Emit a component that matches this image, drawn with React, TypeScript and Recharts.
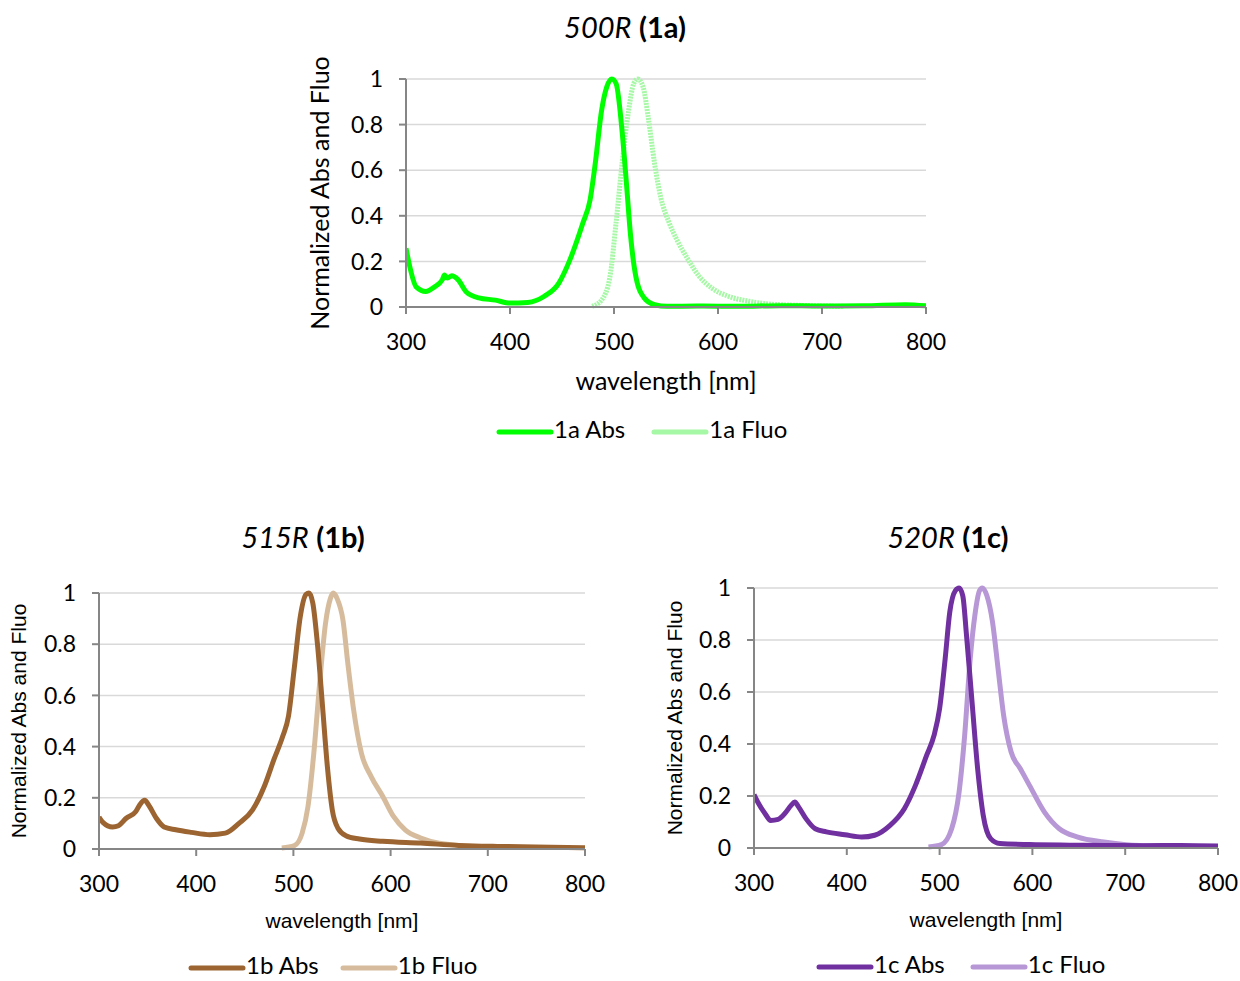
import React from 'react';
import { LineChart, Line, XAxis, YAxis, CartesianGrid } from 'recharts';

// wavelength [nm] / normalized value pairs
const abs1aX = [300, 303, 310, 319, 327, 335, 337, 340, 344, 350, 358, 370, 386, 400, 417, 433, 447, 457, 470, 477, 482, 488, 493, 498, 502, 508, 512, 516, 521, 529, 539, 551, 580, 620, 660, 700, 740, 780, 800];
const abs1aY = [0.258, 0.19, 0.087, 0.068, 0.087, 0.12, 0.14, 0.127, 0.137, 0.12, 0.066, 0.04, 0.03, 0.017, 0.02, 0.047, 0.105, 0.2, 0.367, 0.47, 0.63, 0.86, 0.965, 1.0, 0.98, 0.76, 0.54, 0.31, 0.134, 0.04, 0.01, 0.003, 0.004, 0.003, 0.006, 0.004, 0.005, 0.01, 0.005];
const fluo1aX = [479, 488, 496, 502, 508, 514, 519, 523, 528, 533, 539, 545, 553, 561, 571, 582, 594, 610, 630, 649, 689, 720];
const fluo1aY = [0.003, 0.03, 0.13, 0.37, 0.64, 0.86, 0.98, 1.0, 0.965, 0.83, 0.63, 0.48, 0.37, 0.29, 0.21, 0.134, 0.083, 0.047, 0.025, 0.013, 0.006, 0.003];

const abs1bX = [300, 304, 314, 320, 328, 338, 342, 347, 352, 359, 367, 379, 395, 414, 430, 444, 458, 470, 480, 489, 495, 501, 507, 513, 516, 520, 525, 530, 535, 540, 546, 554, 568, 592, 631, 670, 710, 749, 800];
const abs1bY = [0.125, 0.104, 0.086, 0.091, 0.12, 0.147, 0.173, 0.19, 0.166, 0.12, 0.086, 0.075, 0.065, 0.056, 0.062, 0.1, 0.153, 0.244, 0.35, 0.44, 0.52, 0.71, 0.906, 0.995, 1.0, 0.96, 0.79, 0.556, 0.32, 0.153, 0.08, 0.052, 0.039, 0.03, 0.023, 0.014, 0.01, 0.008, 0.005];
const fluo1bX = [488, 501, 509, 515, 521, 527, 533, 538, 541, 545, 551, 556, 562, 570, 580, 592, 603, 615, 631, 650, 690, 720];
const fluo1bY = [0.004, 0.013, 0.062, 0.166, 0.374, 0.647, 0.88, 0.978, 1.0, 0.978, 0.894, 0.725, 0.543, 0.374, 0.283, 0.205, 0.127, 0.075, 0.043, 0.023, 0.01, 0.008];

const abs1cX = [300, 304, 312, 318, 326, 334, 340, 344, 348, 356, 366, 378, 398, 416, 430, 446, 462, 474, 486, 494, 500, 506, 511, 517, 521, 525, 529, 535, 541, 547, 555, 565, 597, 640, 677, 720, 760, 800];
const abs1cY = [0.205, 0.177, 0.132, 0.106, 0.11, 0.136, 0.164, 0.177, 0.158, 0.113, 0.074, 0.062, 0.051, 0.042, 0.049, 0.085, 0.151, 0.241, 0.356, 0.433, 0.536, 0.728, 0.908, 0.99, 1.0, 0.97, 0.818, 0.56, 0.305, 0.126, 0.036, 0.017, 0.013, 0.011, 0.01, 0.009, 0.01, 0.008];
const fluo1cX = [488, 502, 513, 521, 527, 533, 538, 543, 546, 551, 557, 563, 569, 577, 587, 597, 613, 629, 649, 677, 701, 737];
const fluo1cY = [0.004, 0.013, 0.074, 0.215, 0.433, 0.728, 0.895, 0.99, 1.0, 0.97, 0.87, 0.69, 0.51, 0.37, 0.305, 0.24, 0.138, 0.074, 0.042, 0.023, 0.013, 0.008];

const xTicks = [300, 400, 500, 600, 700, 800];
const yTicks = [0, 0.2, 0.4, 0.6, 0.8, 1];

const toPoints = (xs: number[], ys: number[]) => xs.map((x, i) => ({ x, y: ys[i] }));

const CAL = 'Lato, "Open Sans", sans-serif';
const ARIAL = '"Liberation Sans", Arial, sans-serif';

interface PanelProps {
  left: number;
  top: number;
  width: number;
  height: number;
  marginTop: number;
  marginRight: number;
  yAxisWidth: number;
  xAxisHeight: number;
  yLabelOffset: number;
  xLabelOffset: number;
  absData: { x: number; y: number }[];
  fluoData: { x: number; y: number }[];
  absColor: string;
  fluoColor: string;
  fluoDash?: string;
  labelFont: string;
  labelSize: number;
}

const Panel: React.FC<PanelProps> = (p) => (
  <div style={{ position: 'absolute', left: p.left, top: p.top }}>
    <LineChart
      width={p.width}
      height={p.height}
      margin={{ top: p.marginTop, right: p.marginRight, left: 0, bottom: 0 }}
    >
      <CartesianGrid vertical={false} stroke="#d9d9d9" strokeWidth={1.5} />
      <XAxis
        type="number"
        dataKey="x"
        domain={[300, 800]}
        ticks={xTicks}
        allowDataOverflow
        height={p.xAxisHeight}
        stroke="#868686"
        strokeWidth={2}
        tickSize={7}
        tickMargin={20}
        tick={{ fill: '#000', fontSize: 23, fontFamily: CAL }}
        label={{
          value: 'wavelength [nm]',
          position: 'insideBottom',
          offset: p.xLabelOffset,
          fill: '#000',
          fontSize: p.labelSize,
          fontFamily: p.labelFont,
        }}
      />
      <YAxis
        type="number"
        domain={[0, 1]}
        ticks={yTicks}
        width={p.yAxisWidth}
        stroke="#868686"
        strokeWidth={2}
        tickSize={7}
        tickMargin={16}
        tick={{ fill: '#000', fontSize: 23, fontFamily: CAL }}
        label={{
          value: 'Normalized Abs and Fluo',
          angle: -90,
          position: 'insideLeft',
          offset: p.yLabelOffset,
          style: { textAnchor: 'middle' },
          fill: '#000',
          fontSize: p.labelSize,
          fontFamily: p.labelFont,
        }}
      />
      <Line
        data={p.fluoData}
        dataKey="y"
        type="monotone"
        stroke={p.fluoColor}
        strokeWidth={5}
        strokeDasharray={p.fluoDash}
        dot={false}
        isAnimationActive={false}
      />
      <Line
        data={p.absData}
        dataKey="y"
        type="monotone"
        stroke={p.absColor}
        strokeWidth={5}
        dot={false}
        isAnimationActive={false}
      />
    </LineChart>
  </div>
);

const Title: React.FC<{ x: number; y: number; name: string; tag: string }> = ({ x, y, name, tag }) => (
  <div
    style={{
      position: 'absolute',
      left: x - 150,
      top: y,
      width: 300,
      textAlign: 'center',
      fontFamily: CAL,
      fontSize: 29,
      lineHeight: '32px',
      color: '#000',
    }}
  >
    <span style={{ fontStyle: 'italic' }}>{name}</span> <span style={{ fontWeight: 700 }}>{tag}</span>
  </div>
);

const Swatch: React.FC<{ color: string; dash?: boolean }> = ({ color, dash }) => (
  <svg width={58} height={10} style={{ verticalAlign: 'middle' }}>
    <line
      x1={3}
      y1={5}
      x2={55}
      y2={5}
      stroke={color}
      strokeWidth={5}
      strokeLinecap="round"
      strokeDasharray={dash ? '2 1' : undefined}
    />
  </svg>
);

const LegendRow: React.FC<{ x: number; y: number; abs: string; fluo: string; absColor: string; fluoColor: string; dash?: boolean; gap: number }> = (p) => (
  <div
    style={{
      position: 'absolute',
      left: p.x,
      top: p.y,
      fontFamily: CAL,
      fontSize: 24,
      lineHeight: '24px',
      whiteSpace: 'nowrap',
      color: '#000',
    }}
  >
    <Swatch color={p.absColor} />
    <span style={{ marginRight: p.gap }}>{p.abs}</span>
    <Swatch color={p.fluoColor} dash={p.dash} />
    <span>{p.fluo}</span>
  </div>
);

export default function App() {
  return (
    <div style={{ position: 'absolute', left: 0, top: 0, width: 1240, height: 981, background: '#fff' }}>
      <Title x={625} y={11} name="500R" tag="(1a)" />
      <Panel
        left={290}
        top={40}
        width={660}
        height={360}
        marginTop={39}
        marginRight={24}
        yAxisWidth={116}
        xAxisHeight={93}
        yLabelOffset={30}
        xLabelOffset={10}
        absData={toPoints(abs1aX, abs1aY)}
        fluoData={toPoints(fluo1aX, fluo1aY)}
        absColor="#00ff00"
        fluoColor="#a6f7a6"
        fluoDash="2 1"
        labelFont={CAL}
        labelSize={25}
      />
      <LegendRow x={496} y={417} gap={26} abs="1a Abs" fluo="1a Fluo" absColor="#00ff00" fluoColor="#a6f7a6" dash />

      <Title x={303} y={521} name="515R" tag="(1b)" />
      <Panel
        left={0}
        top={560}
        width={612}
        height={380}
        marginTop={33}
        marginRight={27}
        yAxisWidth={99}
        xAxisHeight={91}
        yLabelOffset={19}
        xLabelOffset={12}
        absData={toPoints(abs1bX, abs1bY)}
        fluoData={toPoints(fluo1bX, fluo1bY)}
        absColor="#9b6431"
        fluoColor="#d6bc9c"
        labelFont={ARIAL}
        labelSize={21}
      />
      <LegendRow x={188} y={953} gap={21} abs="1b Abs" fluo="1b Fluo" absColor="#9b6431" fluoColor="#d6bc9c" />

      <Title x={948} y={521} name="520R" tag="(1c)" />
      <Panel
        left={650}
        top={560}
        width={590}
        height={380}
        marginTop={28}
        marginRight={22}
        yAxisWidth={104}
        xAxisHeight={92}
        yLabelOffset={25}
        xLabelOffset={13}
        absData={toPoints(abs1cX, abs1cY)}
        fluoData={toPoints(fluo1cX, fluo1cY)}
        absColor="#7030a0"
        fluoColor="#b797d6"
        labelFont={ARIAL}
        labelSize={21}
      />
      <LegendRow x={816} y={952} gap={25} abs="1c Abs" fluo="1c Fluo" absColor="#7030a0" fluoColor="#b797d6" />
    </div>
  );
}
